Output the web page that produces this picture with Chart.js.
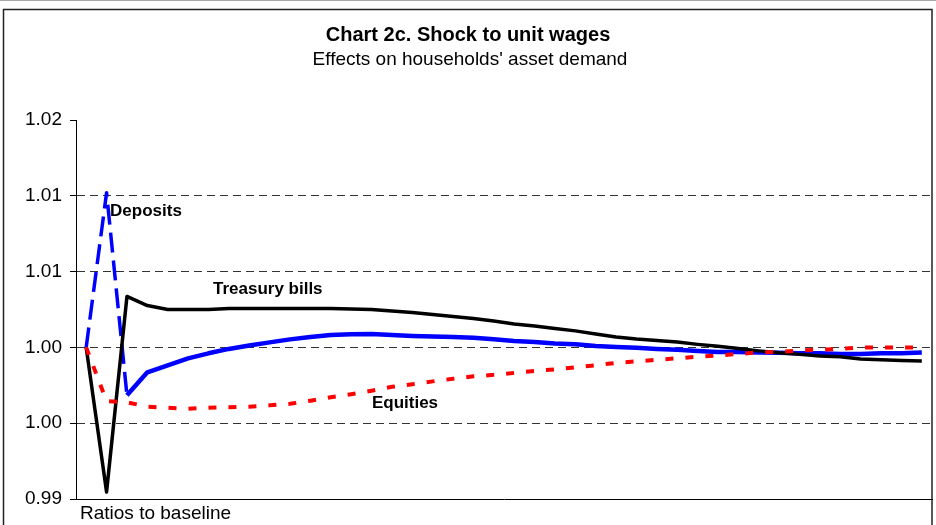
<!DOCTYPE html>
<html>
<head>
<meta charset="utf-8">
<script src="https://cdn.jsdelivr.net/npm/chart.js@4.4.1/dist/chart.umd.min.js"></script>
<style>
  html, body { margin: 0; padding: 0; background: #fff; }
  #wrap { width: 936px; height: 525px; }
</style>
</head>
<body>
<div id="wrap"><canvas id="myChart" width="936" height="525"></canvas></div>
<script>
// periods (unlabelled on the x axis)
const periods = [1, 2, 3, 4, 5, 6, 7, 8, 9, 10, 11, 12, 13, 14, 15, 16, 17, 18, 19, 20, 21,
  22, 23, 24, 25, 26, 27, 28, 29, 30, 31, 32, 33, 34, 35, 36, 37, 38, 39, 40, 41, 42];

// ratios to baseline
const treasuryBills = [1.0, 0.99046, 1.00336, 1.00276, 1.0025, 1.0025, 1.0025, 1.00257, 1.00257,
  1.00257, 1.00257, 1.00257, 1.00257, 1.00253, 1.0025, 1.0024, 1.0023, 1.00217, 1.00204, 1.00191,
  1.00174, 1.00155, 1.00141, 1.00125, 1.00109, 1.00089, 1.00069, 1.00056, 1.00046, 1.00036, 1.0002,
  1.00007, 0.99993, 0.99977, 0.99964, 0.99954, 0.99944, 0.99938, 0.99924, 0.99918, 0.99914, 0.99911];

const deposits = [1.0, 1.0102, 0.99684, 0.99836, 0.99882, 0.99928, 0.99961, 0.9999, 1.00013,
  1.00033, 1.00053, 1.00069, 1.00082, 1.00086, 1.00089, 1.00082, 1.00076, 1.00072, 1.00069, 1.00063,
  1.00053, 1.00043, 1.00036, 1.00026, 1.0002, 1.0001, 1.00003, 0.99997, 0.9999, 0.99984, 0.99977,
  0.9997, 0.9997, 0.99967, 0.99964, 0.99961, 0.99961, 0.99957, 0.99957, 0.99961, 0.99961, 0.99967];

const equities = [1.0, 0.99645, 0.99638, 0.99609, 0.99602, 0.99595, 0.99602, 0.99605, 0.99609,
  0.99618, 0.99628, 0.99648, 0.99671, 0.99691, 0.99714, 0.9974, 0.99757, 0.99776, 0.99793, 0.99809,
  0.99819, 0.99832, 0.99845, 0.99855, 0.99868, 0.99882, 0.99898, 0.99908, 0.99918, 0.99928, 0.99938,
  0.99947, 0.99957, 0.99967, 0.9997, 0.9998, 0.99984, 0.9999, 1.0, 1.0, 1.0, 1.0];

// first periods of deposits are drawn dashed
const depositsDashedUntil = 2;

// y ticks: 0.99 .. 1.015 step 0.005, labels rounded to 2 decimals as in the original
const yTickLabels = ['0.99', '1.00', '1.00', '1.01', '1.01', '1.02'];

// series labels placed in data coordinates (period index, value)
const labelTexts = ['Deposits', 'Treasury bills', 'Equities'];
const labelIndex = [1.17, 6.22, 14.02];
const labelValue = [1.00895, 1.00382, 0.99632];

const FONT = '"Liberation Sans", Arial, sans-serif';

const depositsSolid = deposits.map((v, i) => (i >= depositsDashedUntil ? v : null));
const depositsDashed = deposits.map((v, i) => (i <= depositsDashedUntil ? v : null));

const decor = {
  id: 'decor',
  beforeDraw(chart) {
    const ctx = chart.ctx;
    ctx.save();
    ctx.fillStyle = '#fff';
    ctx.fillRect(0, 0, chart.width, chart.height);
    ctx.strokeStyle = '#aaa';
    ctx.lineWidth = 1;
    ctx.beginPath();
    ctx.moveTo(0, 0.5);
    ctx.lineTo(chart.width, 0.5);
    ctx.stroke();
    ctx.strokeStyle = '#222';
    ctx.lineWidth = 1.5;
    ctx.beginPath();
    ctx.moveTo(3.5, chart.height);
    ctx.lineTo(3.5, 9.5);
    ctx.lineTo(932, 9.5);
    ctx.lineTo(932, chart.height);
    ctx.stroke();
    ctx.restore();
  },
  afterDraw(chart) {
    const ctx = chart.ctx;
    const x = chart.scales.x, y = chart.scales.y;
    ctx.save();
    ctx.fillStyle = '#000';
    ctx.textAlign = 'center';
    ctx.textBaseline = 'middle';
    ctx.font = 'bold 20px ' + FONT;
    ctx.fillText('Chart 2c. Shock to unit wages', 468, 35);
    ctx.font = '19px ' + FONT;
    ctx.fillText("Effects on households' asset demand", 470, 60);

    ctx.textAlign = 'left';
    ctx.font = '19px ' + FONT;
    ctx.fillText('Ratios to baseline', chart.chartArea.left + 4, 514);

    ctx.font = 'bold 17px ' + FONT;
    labelTexts.forEach((t, i) => {
      ctx.fillText(t, x.getPixelForValue(labelIndex[i]), y.getPixelForValue(labelValue[i]));
    });
    ctx.restore();
  }
};

let ctx = document.getElementById('myChart').getContext('2d');
let chart = new Chart(ctx, {
  type: 'line',
  data: {
    labels: periods,
    datasets: [
      {
        label: 'Equities',
        data: equities,
        borderColor: '#ff0000',
        borderWidth: 4,
        borderDash: [8, 12],
        pointRadius: 0,
        tension: 0
      },
      {
        label: 'Treasury bills',
        data: treasuryBills,
        borderColor: '#000000',
        borderWidth: 3.5,
        borderJoinStyle: 'round',
        pointRadius: 0,
        tension: 0
      },
      {
        label: 'Deposits',
        data: depositsSolid,
        borderColor: '#0000ff',
        borderWidth: 4.5,
        borderJoinStyle: 'round',
        pointRadius: 0,
        tension: 0
      },
      {
        label: 'Deposits (first periods)',
        data: depositsDashed,
        borderColor: '#0000ff',
        borderWidth: 3.5,
        borderDash: [20, 8],
        borderJoinStyle: 'round',
        pointRadius: 0,
        tension: 0
      }
    ]
  },
  options: {
    responsive: false,
    animation: false,
    devicePixelRatio: 1,
    layout: { padding: { left: 0, right: 4, top: 120, bottom: 26 } },
    plugins: {
      legend: { display: false },
      title: { display: false },
      tooltip: { enabled: false }
    },
    scales: {
      x: {
        type: 'category',
        offset: true,
        grid: { display: false, drawTicks: false, tickLength: 0 },
        ticks: { display: false },
        border: { display: true, color: '#000', width: 1 }
      },
      y: {
        min: 0.99,
        max: 1.015,
        afterFit(scale) { scale.width = 76; },
        ticks: {
          stepSize: 0.005,
          padding: 8,
          color: '#000',
          font: { family: FONT, size: 19 },
          callback: (v, i) => yTickLabels[i]
        },
        grid: {
          color: (c) => (c.tick && (c.index === 0 || c.index === 5) ? 'rgba(0,0,0,0)' : '#333'),
          lineWidth: 1,
          tickLength: 6,
          tickColor: '#000',
          tickBorderDash: []
        },
        border: { display: true, color: '#000', width: 1, dash: [8, 5] }
      }
    }
  },
  plugins: [decor]
});
</script>
</body>
</html>
